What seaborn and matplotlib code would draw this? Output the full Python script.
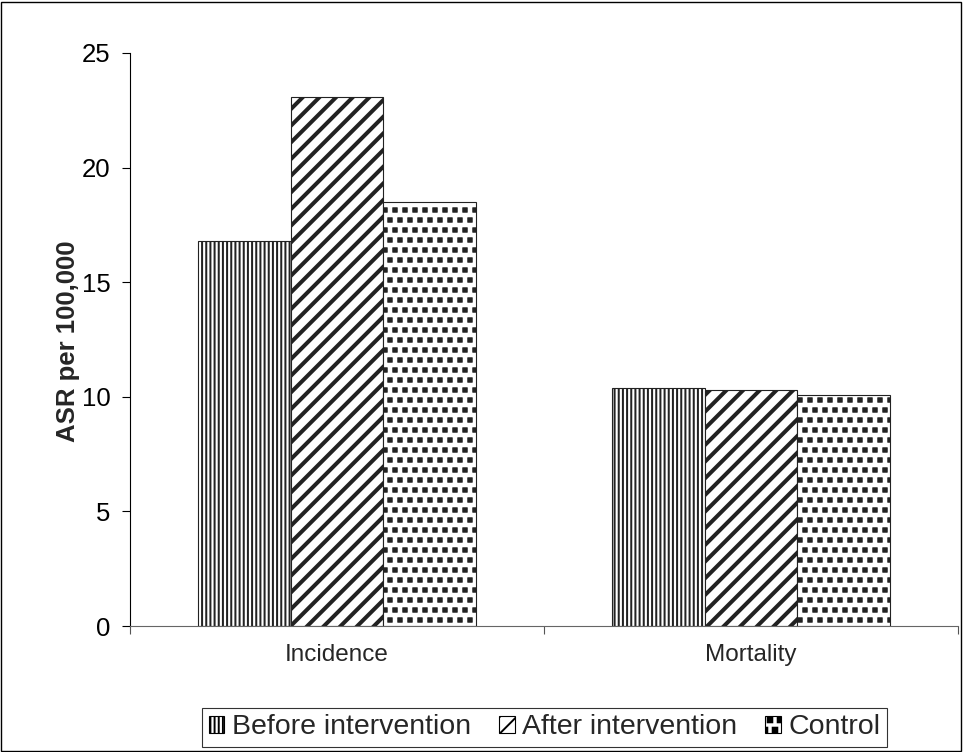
import matplotlib
matplotlib.use("Agg")
import matplotlib.pyplot as plt
import matplotlib.hatch as mhatch
from matplotlib.path import Path
import seaborn as sns
import pandas as pd
import numpy as np
from matplotlib.patches import Rectangle, Patch
from matplotlib.ticker import FixedLocator

categories = ["Incidence", "Mortality"]
groups = ["Before intervention", "After intervention", "Control"]
before = [16.8, 10.4]
after = [23.1, 10.3]
control = [18.5, 10.1]
yticks = [0, 5, 10, 15, 20, 25]


# custom filled-square hatch (replaces the '*' star pattern)
class SquareDots(mhatch.Shapes):
    size = 0.23
    filled = True

    def __init__(self, hatch, density):
        self.num_rows = hatch.count('*') * 10
        self.shape_vertices = np.array([[-1, -1], [1, -1], [1, 1], [-1, 1], [-1, -1]], float)
        self.shape_codes = np.array([Path.MOVETO, Path.LINETO, Path.LINETO, Path.LINETO,
                                     Path.CLOSEPOLY], dtype=Path.code_type)
        super().__init__(hatch, density)


mhatch._hatch_types = [SquareDots if t is mhatch.Stars else t for t in mhatch._hatch_types]

rows = []
for g, vals in zip(groups, [before, after, control]):
    for c, v in zip(categories, vals):
        rows.append({"cat": c, "grp": g, "val": v})
df = pd.DataFrame(rows)

sns.set_style("white")
plt.rcParams["font.family"] = ["Liberation Sans", "DejaVu Sans"]
plt.rcParams["hatch.linewidth"] = 1.4

fig = plt.figure(figsize=(9.63, 7.52), dpi=100)
ax = fig.add_axes([130/963, 1-626/752, 828/963, (626-53)/752])

sns.barplot(data=df, x="cat", y="val", hue="grp", order=categories, hue_order=groups,
            palette=["white"]*3, width=0.67, edgecolor="#222222", linewidth=0.8,
            ax=ax, legend=False, saturation=1)

hatches = ["||||", "//", "*"]
hlw = [1.45, 2.9, 0.5]


def set_hlw(p, lw):
    if hasattr(p, "set_hatch_linewidth"):
        p.set_hatch_linewidth(lw)


for cont, h, lw in zip(ax.containers, hatches, hlw):
    for bar in cont:
        bar.set_hatch(h)
        set_hlw(bar, lw)

ax.set_xlim(-0.5, 1.5)
ax.set_ylim(0, 25)
ax.set_yticks(yticks)
ax.set_yticklabels([str(t) for t in yticks], fontsize=18.5)
ax.tick_params(axis="y", length=6, width=0.8, direction="out", left=True, pad=8, colors="black")
ax.tick_params(axis="x", which="major", length=0, labelsize=17.5, pad=13)
ax.xaxis.set_minor_locator(FixedLocator([-0.5, 0.5, 1.5]))
ax.tick_params(axis="x", which="minor", length=6, width=0.8, direction="out", bottom=True, color="#555555")
ax.set_xlabel("")
ax.set_ylabel("ASR per 100,000", fontsize=18.5, fontweight="bold")
ax.yaxis.set_label_coords(-0.060, 0.497)
for s in ["top", "right"]:
    ax.spines[s].set_visible(False)
ax.spines["left"].set_color("black")
ax.spines["left"].set_linewidth(0.8)
ax.spines["bottom"].set_color("#666666")
ax.spines["bottom"].set_linewidth(0.8)

handles = []
for h, lw in zip(hatches, hlw):
    p = Patch(facecolor="white", edgecolor="black", hatch=h, linewidth=0.8)
    set_hlw(p, lw)
    handles.append(p)
leg = fig.legend(handles, groups, loc="center", bbox_to_anchor=(544.5/963, 1-727.5/752), ncol=3,
                 fontsize=20.5, frameon=True, fancybox=False, edgecolor="black",
                 handlelength=0.55, handleheight=0.55, handletextpad=0.25, columnspacing=1.0,
                 borderpad=0.22, borderaxespad=0)
leg.get_frame().set_linewidth(0.8)

fig.patches.append(Rectangle((0.001, 0.001), 0.997, 0.997, transform=fig.transFigure,
                             fill=False, edgecolor="black", linewidth=1.0))

fig.savefig("out.png", dpi=100)
